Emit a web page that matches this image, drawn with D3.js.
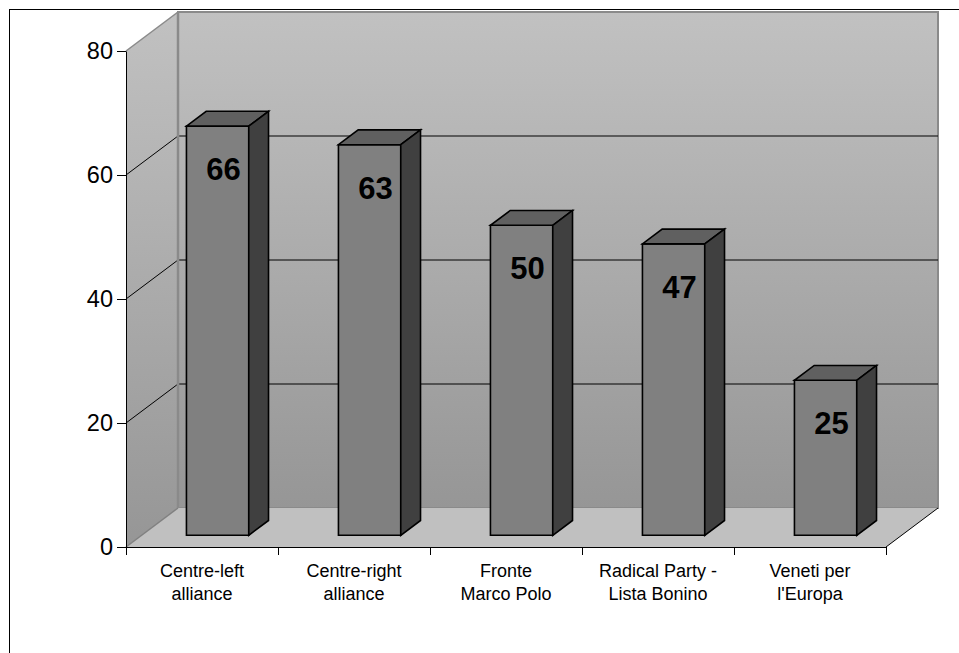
<!DOCTYPE html>
<html>
<head>
<meta charset="utf-8">
<script src="https://cdn.jsdelivr.net/npm/d3@7"></script>
<style>
  html, body { margin: 0; padding: 0; background: #ffffff; }
  svg { display: block; }
  text { font-family: "Liberation Sans", Arial, sans-serif; }
</style>
</head>
<body>
<svg id="chart" width="959" height="653"></svg>
<script>
// ---- data ----
const categories = ["Centre-left alliance", "Centre-right alliance", "Fronte Marco Polo", "Radical Party - Lista Bonino", "Veneti per l'Europa"];
const categoryLines = [["Centre-left", "alliance"], ["Centre-right", "alliance"], ["Fronte", "Marco Polo"], ["Radical Party -", "Lista Bonino"], ["Veneti per", "l'Europa"]];
const values = [66, 63, 50, 47, 25];
const yTicks = [0, 20, 40, 60, 80];
const gridValues = [20, 40, 60];

// ---- layout ----
const svg = d3.select("#chart");
const DX = 52, DY = 39;           // 3D depth offset
const D0 = 0.3, D1 = 0.68;        // bar depth range (fraction)

const y = d3.scaleLinear().domain([0, 80]).range([547, 51]);
const x = d3.scaleBand().domain(categories).range([126, 886]).paddingInner(0.59).paddingOuter(0.295);
const xb = d3.scaleLinear().domain([0, categories.length]).range([126, 886]);

const P = (px, py, d) => [px + d * DX, py - d * DY];
const poly = pts => pts.map(p => p.join(",")).join(" ");

// outer border
svg.append("rect").attr("x", 9.5).attr("y", 9.5).attr("width", 980).attr("height", 680)
  .attr("fill", "none").attr("stroke", "#000").attr("stroke-width", 1);

// gradient
const defs = svg.append("defs");
const g1 = defs.append("linearGradient").attr("id", "wall").attr("x1", 0).attr("y1", 0).attr("x2", 0).attr("y2", 1);
g1.append("stop").attr("offset", "0%").attr("stop-color", "#c1c1c1");
g1.append("stop").attr("offset", "100%").attr("stop-color", "#969696");

const x0 = xb(0), x1 = xb(categories.length), yTop = y(80), yBot = y(0);

// left wall
svg.append("polygon")
  .attr("points", poly([P(x0, yTop, 0), P(x0, yTop, 1), P(x0, yBot, 1), P(x0, yBot, 0)]))
  .attr("fill", "url(#wall)");
// back wall
svg.append("polygon")
  .attr("points", poly([P(x0, yTop, 1), P(x1, yTop, 1), P(x1, yBot, 1), P(x0, yBot, 1)]))
  .attr("fill", "url(#wall)").attr("stroke", "#8a8a8a").attr("stroke-width", 2);
// floor
svg.append("polygon")
  .attr("points", poly([P(x0, yBot, 0), P(x1, yBot, 0), P(x1, yBot, 1), P(x0, yBot, 1)]))
  .attr("fill", "#c0c0c0");
// floor left edge and left wall top edge (gray)
svg.append("line").attr("x1", P(x0, yBot, 0)[0]).attr("y1", P(x0, yBot, 0)[1])
  .attr("x2", P(x0, yBot, 1)[0]).attr("y2", P(x0, yBot, 1)[1]).attr("stroke", "#808080").attr("stroke-width", 1.5);
svg.append("line").attr("x1", P(x0, yTop, 0)[0]).attr("y1", P(x0, yTop, 0)[1])
  .attr("x2", P(x0, yTop, 1)[0]).attr("y2", P(x0, yTop, 1)[1]).attr("stroke", "#8a8a8a").attr("stroke-width", 1.5);
// floor right edge (black)
svg.append("line").attr("x1", P(x1, yBot, 0)[0]).attr("y1", P(x1, yBot, 0)[1])
  .attr("x2", P(x1, yBot, 1)[0]).attr("y2", P(x1, yBot, 1)[1]).attr("stroke", "#000").attr("stroke-width", 1);

// gridlines
gridValues.forEach(v => {
  const a = P(x0, y(v), 0), b = P(x0, y(v), 1), c = P(x1, y(v), 1);
  svg.append("polyline").attr("points", poly([a, b, c]))
    .attr("fill", "none").attr("stroke", "#000").attr("stroke-width", 1);
});
// re-draw back wall left edge over gridlines
svg.append("line").attr("x1", x0 + DX).attr("y1", yTop - DY).attr("x2", x0 + DX).attr("y2", yBot - DY)
  .attr("stroke", "#8a8a8a").attr("stroke-width", 2.5);

// y axis
const yAxis = svg.append("g").attr("transform", `translate(${x0},0)`)
  .call(d3.axisLeft(y).tickValues(yTicks).tickSize(9).tickSizeOuter(0).tickPadding(4));
yAxis.select(".domain").attr("stroke", "#000");
yAxis.selectAll("text").attr("font-size", 23.5).attr("fill", "#000")
  .style("font-family", "'Liberation Sans', Arial, sans-serif");

// x axis
const xAxis = svg.append("g").attr("transform", `translate(0,${yBot})`)
  .call(d3.axisBottom(xb).tickValues(d3.range(categories.length + 1)).tickSize(8).tickSizeOuter(0).tickFormat(""));
xAxis.select(".domain").attr("stroke", "#000");

// category labels
categories.forEach((c, i) => {
  const t = svg.append("text").attr("text-anchor", "middle").attr("font-size", 18).attr("fill", "#000");
  const cx = x(c) + x.bandwidth() / 2;
  categoryLines[i].forEach((ln, j) => {
    t.append("tspan").attr("x", cx).attr("y", 577 + j * 22.5).text(ln);
  });
});

// bars
categories.forEach((c, i) => {
  const v = values[i];
  const L = x(c), R = x(c) + x.bandwidth();
  const T = y(v), B = y(0);
  const g = svg.append("g").attr("stroke", "#000").attr("stroke-width", 1.6).attr("stroke-linejoin", "miter");
  g.append("polygon").attr("points", poly([P(L, T, D0), P(R, T, D0), P(R, B, D0), P(L, B, D0)])).attr("fill", "#808080");
  g.append("polygon").attr("points", poly([P(L, T, D0), P(R, T, D0), P(R, T, D1), P(L, T, D1)])).attr("fill", "#606060");
  g.append("polygon").attr("points", poly([P(R, T, D0), P(R, T, D1), P(R, B, D1), P(R, B, D0)])).attr("fill", "#404040");
  const ft = P((L + R) / 2, T, D0);
  svg.append("text").attr("x", ft[0] + 6).attr("y", ft[1] + 43 + 11)
    .attr("text-anchor", "middle").attr("font-size", 31).attr("font-weight", "bold").attr("fill", "#000")
    .text(v);
});
</script>
</body>
</html>
